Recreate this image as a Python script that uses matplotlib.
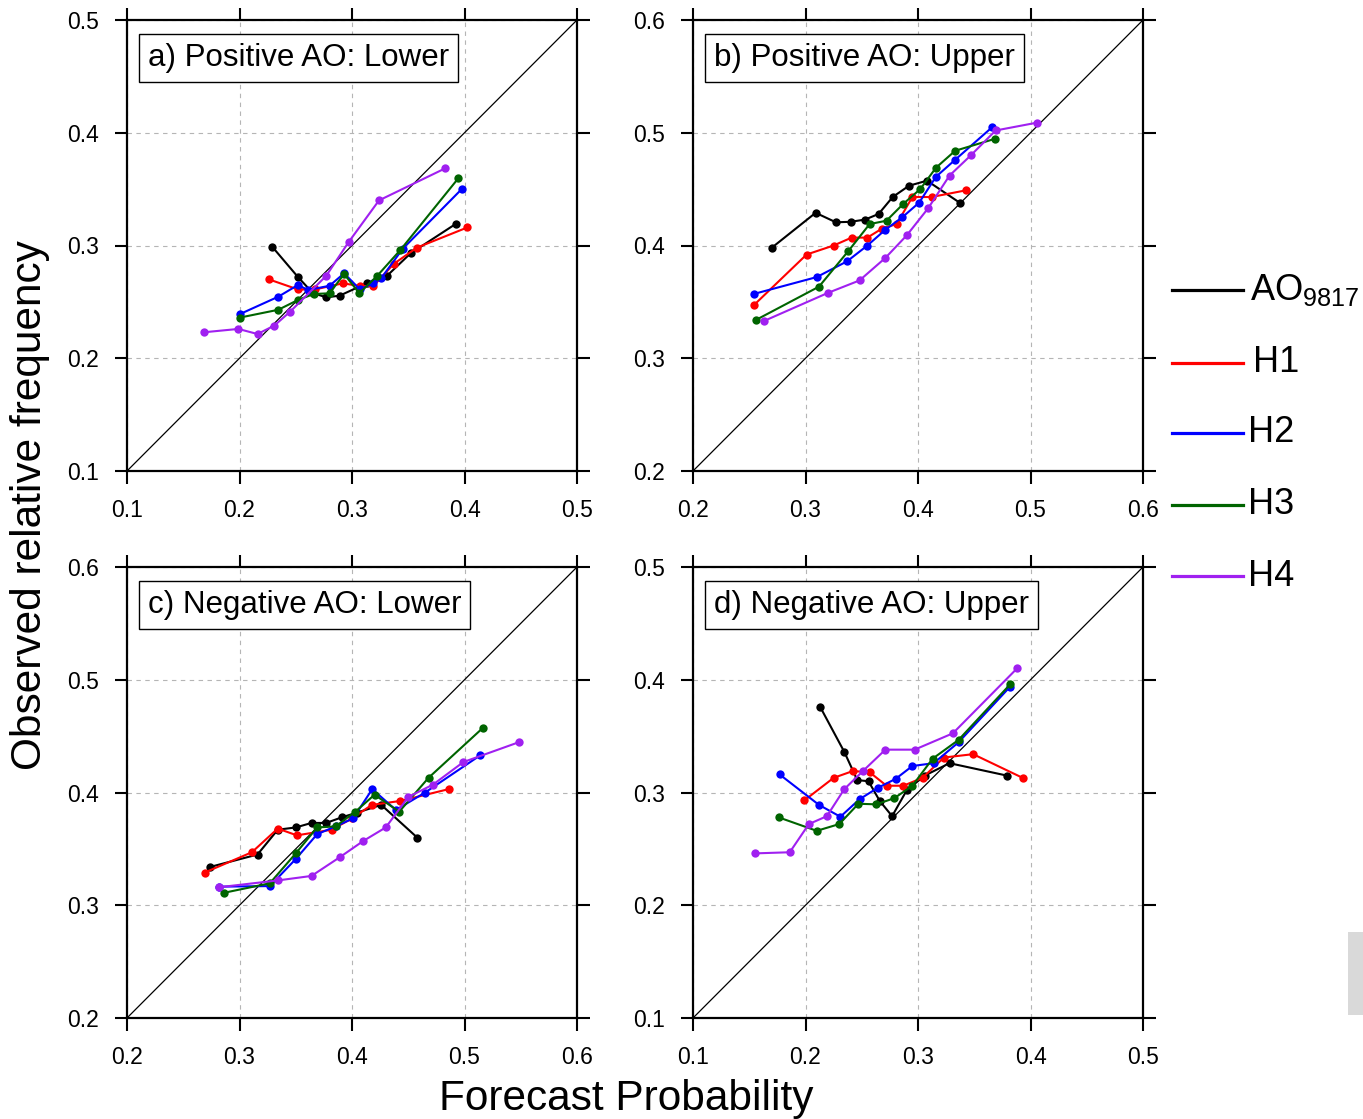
import matplotlib
matplotlib.use("Agg")
import matplotlib.pyplot as plt
from matplotlib.lines import Line2D
from matplotlib.patches import Rectangle

plt.rcParams['font.family'] = ['Liberation Sans', 'DejaVu Sans']
plt.rcParams['mathtext.default'] = 'regular'

series_names = ['AO$_{9817}$', 'H1', 'H2', 'H3', 'H4']
series_colors = ['black', '#ff0000', '#0000ff', '#006400', '#a020f0']

panel_titles = ['a) Positive AO: Lower', 'b) Positive AO: Upper',
                'c) Negative AO: Lower', 'd) Negative AO: Upper']
panel_ranges = [(0.1, 0.5), (0.2, 0.6), (0.2, 0.6), (0.1, 0.5)]

# Panel a
a_ao_x = [0.229, 0.252, 0.265, 0.277, 0.289, 0.313, 0.331, 0.352, 0.392]
a_ao_y = [0.299, 0.272, 0.258, 0.254, 0.2555, 0.2665, 0.273, 0.293, 0.319]
a_h1_x = [0.226, 0.252, 0.267, 0.292, 0.307, 0.319, 0.337, 0.3575, 0.4025]
a_h1_y = [0.270, 0.261, 0.261, 0.2665, 0.264, 0.264, 0.2836, 0.298, 0.316]
a_h2_x = [0.200, 0.2345, 0.252, 0.261, 0.280, 0.293, 0.307, 0.319, 0.326, 0.345, 0.3975]
a_h2_y = [0.239, 0.2546, 0.265, 0.2605, 0.2643, 0.2753, 0.2611, 0.2665, 0.271, 0.297, 0.350]
a_h3_x = [0.200, 0.2345, 0.252, 0.266, 0.280, 0.293, 0.3065, 0.3225, 0.343, 0.3945]
a_h3_y = [0.236, 0.243, 0.2517, 0.257, 0.2576, 0.2747, 0.2576, 0.2732, 0.296, 0.3596]
a_h4_x = [0.168, 0.199, 0.216, 0.231, 0.245, 0.277, 0.297, 0.324, 0.383]
a_h4_y = [0.223, 0.226, 0.2215, 0.229, 0.2413, 0.273, 0.303, 0.340, 0.3685]

# Panel b
b_ao_x = [0.270, 0.309, 0.327, 0.340, 0.353, 0.365, 0.3775, 0.392, 0.408, 0.437]
b_ao_y = [0.398, 0.429, 0.4206, 0.421, 0.423, 0.428, 0.443, 0.453, 0.4575, 0.438]
b_h1_x = [0.254, 0.301, 0.325, 0.341, 0.355, 0.368, 0.381, 0.395, 0.412, 0.443]
b_h1_y = [0.347, 0.392, 0.400, 0.407, 0.407, 0.415, 0.419, 0.443, 0.443, 0.449]
b_h2_x = [0.254, 0.310, 0.337, 0.355, 0.371, 0.386, 0.401, 0.416, 0.433, 0.466]
b_h2_y = [0.357, 0.372, 0.386, 0.400, 0.414, 0.425, 0.438, 0.461, 0.476, 0.505]
b_h3_x = [0.256, 0.312, 0.338, 0.357, 0.372, 0.387, 0.402, 0.416, 0.433, 0.468]
b_h3_y = [0.334, 0.3635, 0.395, 0.419, 0.422, 0.437, 0.450, 0.469, 0.484, 0.4945]
b_h4_x = [0.263, 0.320, 0.348, 0.371, 0.390, 0.409, 0.428, 0.447, 0.469, 0.506]
b_h4_y = [0.333, 0.358, 0.369, 0.389, 0.409, 0.433, 0.462, 0.480, 0.502, 0.509]

# Panel c
c_ao_x = [0.274, 0.316, 0.334, 0.350, 0.364, 0.377, 0.391, 0.404, 0.426, 0.458]
c_ao_y = [0.334, 0.345, 0.367, 0.369, 0.373, 0.373, 0.378, 0.382, 0.389, 0.360]
c_h1_x = [0.269, 0.311, 0.334, 0.351, 0.382, 0.400, 0.4175, 0.443, 0.486]
c_h1_y = [0.329, 0.347, 0.368, 0.362, 0.367, 0.377, 0.389, 0.3925, 0.403]
c_h2_x = [0.282, 0.327, 0.350, 0.369, 0.3855, 0.401, 0.418, 0.439, 0.465, 0.514]
c_h2_y = [0.3165, 0.317, 0.341, 0.363, 0.370, 0.377, 0.403, 0.3845, 0.400, 0.433]
c_h3_x = [0.286, 0.327, 0.350, 0.369, 0.3855, 0.403, 0.420, 0.442, 0.468, 0.516]
c_h3_y = [0.311, 0.3195, 0.346, 0.369, 0.370, 0.383, 0.398, 0.383, 0.413, 0.457]
c_h4_x = [0.282, 0.334, 0.364, 0.389, 0.410, 0.430, 0.450, 0.472, 0.499, 0.548]
c_h4_y = [0.316, 0.322, 0.326, 0.3425, 0.357, 0.369, 0.396, 0.407, 0.427, 0.4445]

# Panel d
d_ao_x = [0.213, 0.2345, 0.246, 0.256, 0.266, 0.277, 0.290, 0.306, 0.328, 0.379]
d_ao_y = [0.376, 0.336, 0.311, 0.310, 0.2925, 0.279, 0.302, 0.315, 0.326, 0.315]
d_h1_x = [0.199, 0.225, 0.242, 0.257, 0.272, 0.287, 0.304, 0.323, 0.349, 0.393]
d_h1_y = [0.293, 0.313, 0.319, 0.318, 0.306, 0.306, 0.313, 0.331, 0.334, 0.313]
d_h2_x = [0.177, 0.212, 0.231, 0.248, 0.264, 0.280, 0.295, 0.314, 0.336, 0.382]
d_h2_y = [0.316, 0.289, 0.2785, 0.294, 0.304, 0.312, 0.3235, 0.326, 0.3445, 0.394]
d_h3_x = [0.176, 0.210, 0.230, 0.247, 0.263, 0.279, 0.295, 0.313, 0.336, 0.382]
d_h3_y = [0.278, 0.266, 0.272, 0.290, 0.2895, 0.295, 0.306, 0.330, 0.3466, 0.396]
d_h4_x = [0.155, 0.186, 0.203, 0.219, 0.2345, 0.251, 0.271, 0.297, 0.331, 0.388]
d_h4_y = [0.246, 0.247, 0.272, 0.279, 0.303, 0.319, 0.338, 0.338, 0.3525, 0.410]

panels = [
    [(a_ao_x, a_ao_y), (a_h1_x, a_h1_y), (a_h2_x, a_h2_y), (a_h3_x, a_h3_y), (a_h4_x, a_h4_y)],
    [(b_ao_x, b_ao_y), (b_h1_x, b_h1_y), (b_h2_x, b_h2_y), (b_h3_x, b_h3_y), (b_h4_x, b_h4_y)],
    [(c_ao_x, c_ao_y), (c_h1_x, c_h1_y), (c_h2_x, c_h2_y), (c_h3_x, c_h3_y), (c_h4_x, c_h4_y)],
    [(d_ao_x, d_ao_y), (d_h1_x, d_h1_y), (d_h2_x, d_h2_y), (d_h3_x, d_h3_y), (d_h4_x, d_h4_y)],
]

W, H = 1363, 1119
fig = plt.figure(figsize=(W / 100, H / 100), dpi=100)

# axes pixel boxes (left, top, right, bottom)
boxes = [(127, 20, 577, 471), (693, 20, 1143, 471),
         (127, 567, 577, 1018), (693, 567, 1143, 1018)]

for i, (l, t, r, b) in enumerate(boxes):
    ax = fig.add_axes([l / W, 1 - b / H, (r - l) / W, (b - t) / H])
    lo, hi = panel_ranges[i]
    ticks = [round(lo + 0.1 * k, 1) for k in range(5)]
    ax.set_xlim(lo, hi)
    ax.set_ylim(lo, hi)
    ax.set_xticks(ticks)
    ax.set_yticks(ticks)
    ax.set_xticklabels([f"{v:.1f}" for v in ticks])
    ax.set_yticklabels([f"{v:.1f}" for v in ticks])
    ax.tick_params(direction='out', length=9, width=1.5, labelsize=16.5,
                   top=True, right=True, colors='black')
    ax.tick_params(axis='x', pad=11.5)
    ax.tick_params(axis='y', pad=11)
    for s in ax.spines.values():
        s.set_linewidth(1.6)
    ax.grid(True, linestyle=(0, (4, 4)), color='#b5b5b5', linewidth=0.8)
    ax.set_axisbelow(True)
    ax.plot([lo, hi], [lo, hi], color='black', linewidth=0.9, zorder=2)
    for (xs, ys), col in zip(panels[i], series_colors):
        ax.plot(xs, ys, color=col, linewidth=1.5, marker='o', markersize=6,
                markeredgewidth=0, zorder=3)
    ax.text(0.047, 0.916, panel_titles[i], transform=ax.transAxes,
            fontsize=22.5, ha='left', va='center', zorder=5,
            bbox=dict(boxstyle='square,pad=0.28', facecolor='white',
                      edgecolor='black', linewidth=1.0))

# shared axis labels
fig.text(30 / W, 1 - 505 / H, 'Observed relative frequency', rotation=90,
         fontsize=30.5, ha='center', va='center')
fig.text(626 / W, 1 - 1099 / H, 'Forecast Probability', fontsize=30.5,
         ha='center', va='center')

# legend
leg_y = [290, 363, 433, 505, 576]
leg_tx = [1250, 1253, 1248, 1248, 1248]
for name, col, yy, tx in zip(series_names, series_colors, leg_y, leg_tx):
    fig.add_artist(Line2D([1172 / W, 1243 / W], [1 - yy / H, 1 - yy / H],
                          color=col, linewidth=2.3, transform=fig.transFigure))
    fig.text(tx / W, 1 - yy / H, name, fontsize=26, ha='left', va='center')

# small grey artifact at lower right
fig.add_artist(Rectangle((1348 / W, 1 - 1015 / H), 15 / W, 83 / H,
                         facecolor='#d9d9d9', edgecolor='none',
                         transform=fig.transFigure))

fig.savefig('out.png', dpi=100)
